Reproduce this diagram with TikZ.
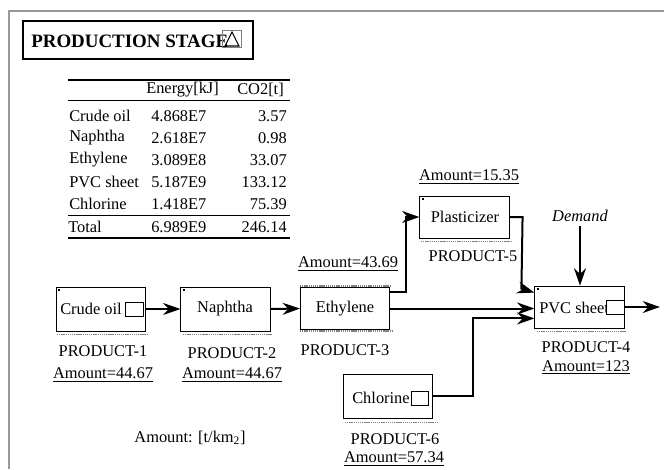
\documentclass[tikz,border=0pt]{standalone}
\usepackage{fontspec}
\setmainfont{Liberation Serif}
\usetikzlibrary{arrows.meta,calc}
\begin{document}
\begin{tikzpicture}[x=0.75pt,y=-0.75pt,
  box/.style={draw, line width=0.6pt, inner sep=0, minimum width=67pt, minimum height=32pt},
  mini/.style={draw, line width=0.6pt, inner sep=0, minimum width=13.5pt, minimum height=11pt},
  txt/.style={font=\fontsize{12.3}{14}\selectfont, inner sep=0},
  flow/.style={line width=1.5pt, -{Stealth[length=13pt,width=9pt]}},
  shadeline/.style={gray, line width=0.6pt, dash pattern=on 1pt off 0.6pt},
  rule/.style={line width=0.6pt},
  thickrule/.style={line width=1.2pt}]
\useasboundingbox (0,0) rectangle (664,469);
\draw[gray!80, line width=1.5pt] (9,469) -- (9,11) -- (664,11);

% title
\node[draw, line width=1.5pt, inner sep=0, minimum width=172.5pt, minimum height=28pt] (title) at (138,40) {};
\node[anchor=west, inner sep=0, font=\fontsize{14.2}{16}\selectfont\bfseries] (ttext) at (31,41) {PRODUCTION STAGE};
\node[draw=gray, line width=0.6pt, inner sep=0, minimum width=14pt, minimum height=13pt] (tribox) at (232,39) {};
\draw[line width=0.8pt] (225,46) -- (239,46) -- (232,32) -- cycle;

% table
\draw[thickrule] (68,80) -- (290,80);
\draw[rule] (68,100) -- (290,100);
\draw[rule] (68,215) -- (290,215);
\draw[thickrule] (68,238) -- (290,238);
\node[txt, anchor=west] (hE) at (146,90) {Energy[kJ]};
\node[txt, anchor=east] (hC) at (284,90) {CO2[t]};
\node[txt, anchor=west] (r1a) at (69,116) {Crude oil};
\node[txt, anchor=west] (r1b) at (151,116) {4.868E7};
\node[txt, anchor=east] (r1c) at (287,116) {3.57};
\node[txt, anchor=west] (r2a) at (69,138) {Naphtha};
\node[txt, anchor=west] (r2b) at (151,138) {2.618E7};
\node[txt, anchor=east] (r2c) at (287,138) {0.98};
\node[txt, anchor=west] (r3a) at (69,160) {Ethylene};
\node[txt, anchor=west] (r3b) at (151,160) {3.089E8};
\node[txt, anchor=east] (r3c) at (287,160) {33.07};
\node[txt, anchor=west] (r4a) at (69,182) {PVC sheet};
\node[txt, anchor=west] (r4b) at (151,182) {5.187E9};
\node[txt, anchor=east] (r4c) at (287,182) {133.12};
\node[txt, anchor=west] (r5a) at (69,204) {Chlorine};
\node[txt, anchor=west] (r5b) at (151,204) {1.418E7};
\node[txt, anchor=east] (r5c) at (287,204) {75.39};
\node[txt, anchor=west] (r6a) at (68,227) {Total};
\node[txt, anchor=west] (r6b) at (151,227) {6.989E9};
\node[txt, anchor=east] (r6c) at (287,227) {246.14};

% boxes
\node[box, minimum height=33pt] (crude) at (101,309) {};
\node[txt] (crudet) at (91,309) {Crude oil};
\node[mini] (crudesq) at (134,309.5) {};
\draw[shadeline] (57,334) -- (148,334);

\node[box, minimum height=33pt] (naph) at (225.5,309) {};
\node[txt] (napht) at (225,309) {Naphtha};
\draw[shadeline] (183,334) -- (272,334);

\node[box, minimum height=31pt] (eth) at (345,308.5) {};
\node[txt] (etht) at (345,309) {Ethylene};
\draw[shadeline, line width=1pt] (300,286) -- (391,286);
\draw[shadeline, line width=1pt] (300,331) -- (392,331);

\node[box, minimum height=31.5pt] (plast) at (464.5,217) {};
\node[txt] (plastt) at (465,217) {Plasticizer};
\draw[shadeline] (421,241) -- (512,241);

\node[box, minimum height=31.5pt] (pvc) at (579.5,307) {};
\node[txt, anchor=west] (pvct) at (539,308) {PVC sheet};
\node[mini, fill=white] (pvcsq) at (615,307.5) {};
\draw[shadeline] (537,331) -- (626,331);

\node[box, minimum height=33pt] (chlor) at (388,396) {};
\node[txt] (chlort) at (381,398) {Chlorine};
\node[mini, minimum width=13pt, minimum height=10.5pt] (chlorsq) at (420,398) {};
\draw[shadeline] (345,422) -- (437,422);

% corner dots
\fill (58,289) rectangle (59.5,290.5);
\fill (183,289) rectangle (184.5,290.5);
\fill (422,198) rectangle (423.5,199.5);
\fill (537,288) rectangle (538.5,289.5);

% labels
\node[txt] (p1) at (103,351) {PRODUCT-1};
\node[txt] (a1) at (103,375) {\underline{Amount=44.67}};
\node[txt] (p2) at (232,353) {PRODUCT-2};
\node[txt] (a2) at (232,375) {\underline{Amount=44.67}};
\node[txt] (p3) at (345,350) {PRODUCT-3};
\node[txt] (a3) at (348,264) {\underline{Amount=43.69}};
\node[txt] (a5) at (469,177) {\underline{Amount=15.35}};
\node[txt] (p5) at (473,256) {PRODUCT-5};
\node[txt] (p4) at (586,347) {PRODUCT-4};
\node[txt] (a4) at (586,367) {\underline{Amount=123}};
\node[txt] (p6) at (395,439) {PRODUCT-6};
\node[txt] (a6) at (394,459) {\underline{Amount=57.34}};
\node[txt] (unit) at (190,438) {Amount: [t/km\textsubscript{2}]};
\node[txt, font=\fontsize{12.3}{14}\selectfont\itshape] (demand) at (580,216) {Demand};

% connectors
\draw[flow] (crude.east) -- (naph.west);
\draw[flow] (naph.east) -- (eth.west);
\draw[flow] ($(eth.north east)+(0,5)$) -- ++(16,0) |- (plast.west);
\draw[flow] (plast.east) -- ++(13,0) -- ($(pvc.north west)+(-13,3)$) -- ($(pvc.north west)+(0,7)$);
\draw[flow] (eth.east) -- (eth.east -| pvc.west);
\draw[flow] (chlor.east) -- ++(40,0) |- ($(pvc.south west)+(0,-10)$);
\draw[flow] ($(demand.south)+(0,4)$) -- (demand.south |- pvc.north);
\coordinate (out) at (660,307);
\draw[flow] (pvc.east) -- (out);
\end{tikzpicture}
\end{document}
